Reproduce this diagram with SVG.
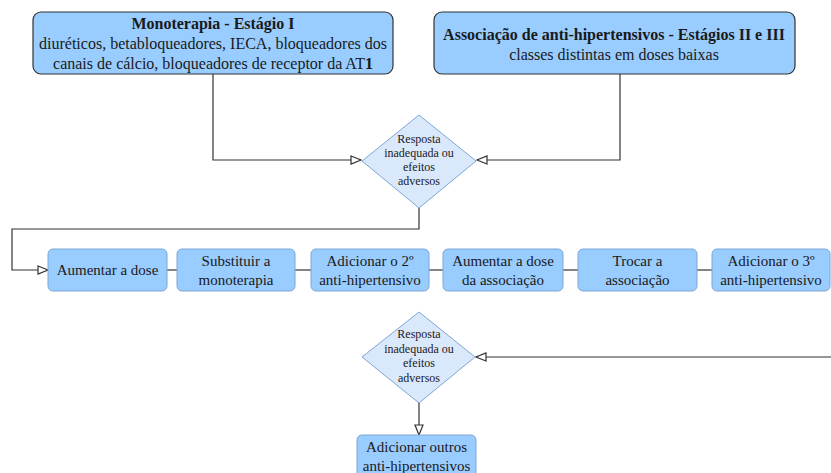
<svg xmlns="http://www.w3.org/2000/svg" width="831" height="473" viewBox="0 0 831 473">
  <style>
    text { font-family: "Liberation Serif", "Times New Roman", serif; fill: #1a1a1a; text-anchor: middle; }
    .head { fill: #99ccff; stroke: #333333; stroke-width: 1.2; }
    .step { fill: #99ccff; stroke: #7ea6d6; stroke-width: 1; }
    .decision { fill: #dae8fc; stroke: #7ea6d6; stroke-width: 1; }
    .big { font-size: 16px; }
    .mid { font-size: 15px; }
    .small { font-size: 12px; }
    .bold { font-weight: bold; }
    .wire { fill: none; stroke: #333333; stroke-width: 1.2; }
  </style>
  <defs>
    <marker id="open-arrow" viewBox="0 0 12 10" refX="11" refY="5" markerWidth="12" markerHeight="10" markerUnits="userSpaceOnUse" orient="auto">
      <path d="M1,1 L11,5 L1,9 Z" fill="#ffffff" stroke="#333333" stroke-width="1.2"/>
    </marker>
  </defs>

  <rect width="831" height="473" fill="#ffffff"/>

  <!-- connectors -->
  <g id="connectors">
    <path class="wire" d="M213,74 V160 H361" marker-end="url(#open-arrow)"/>
    <path class="wire" d="M620,74 V160 H477" marker-end="url(#open-arrow)"/>
    <path class="wire" d="M419,208 V229 H12 V270 H48" marker-end="url(#open-arrow)"/>
    <path class="wire" d="M167,270 H177"/>
    <path class="wire" d="M295,270 H311"/>
    <path class="wire" d="M429,270 H443"/>
    <path class="wire" d="M563,270 H578"/>
    <path class="wire" d="M697,270 H712"/>
    <path class="wire" d="M831,357 H476" marker-end="url(#open-arrow)"/>
    <path class="wire" d="M419,403 V435" marker-end="url(#open-arrow)"/>
  </g>

  <!-- stage I -->
  <g id="monoterapia">
    <rect class="head" x="33" y="12" width="360" height="62" rx="8"/>
    <text class="big bold" x="213" y="29">Monoterapia - Estágio I</text>
    <text class="big" x="213" y="49">diuréticos, betabloqueadores, IECA, bloqueadores dos</text>
    <text class="big" x="213" y="69">canais de cálcio, bloqueadores de receptor da AT<tspan font-weight="bold">1</tspan></text>
  </g>

  <!-- stages II and III -->
  <g id="associacao">
    <rect class="head" x="434" y="12" width="361" height="62" rx="8"/>
    <text class="big bold" x="614" y="40">Associação de anti-hipertensivos - Estágios II e III</text>
    <text class="big" x="614" y="60">classes distintas em doses baixas</text>
  </g>

  <!-- first decision -->
  <g id="decisao-1">
    <polygon class="decision" points="419,115 476,161 419,208 362,161"/>
    <text class="small" x="419" y="143">Resposta</text>
    <text class="small" x="419" y="157">inadequada ou</text>
    <text class="small" x="419" y="171">efeitos</text>
    <text class="small" x="419" y="185">adversos</text>
  </g>

  <!-- step row -->
  <g id="aumentar-dose">
    <rect class="step" x="48" y="249" width="119" height="42" rx="5"/>
    <text class="mid" x="107.5" y="275">Aumentar a dose</text>
  </g>
  <g id="substituir">
    <rect class="step" x="177" y="249" width="118" height="42" rx="5"/>
    <text class="mid" x="236" y="266">Substituir a</text>
    <text class="mid" x="236" y="285">monoterapia</text>
  </g>
  <g id="adicionar-2">
    <rect class="step" x="311" y="249" width="118" height="42" rx="5"/>
    <text class="mid" x="370" y="266">Adicionar o 2º</text>
    <text class="mid" x="370" y="285">anti-hipertensivo</text>
  </g>
  <g id="aumentar-associacao">
    <rect class="step" x="443" y="249" width="120" height="42" rx="5"/>
    <text class="mid" x="503" y="266">Aumentar a dose</text>
    <text class="mid" x="503" y="285">da associação</text>
  </g>
  <g id="trocar">
    <rect class="step" x="578" y="249" width="119" height="42" rx="5"/>
    <text class="mid" x="637.5" y="266">Trocar a</text>
    <text class="mid" x="637.5" y="285">associação</text>
  </g>
  <g id="adicionar-3">
    <rect class="step" x="712" y="249" width="118" height="42" rx="5"/>
    <text class="mid" x="771" y="266">Adicionar o 3º</text>
    <text class="mid" x="771" y="285">anti-hipertensivo</text>
  </g>

  <!-- second decision -->
  <g id="decisao-2">
    <polygon class="decision" points="419,312 475,357 419,403 362,357"/>
    <text class="small" x="419" y="338">Resposta</text>
    <text class="small" x="419" y="353">inadequada ou</text>
    <text class="small" x="419" y="367">efeitos</text>
    <text class="small" x="419" y="382">adversos</text>
  </g>

  <g id="adicionar-outros">
    <rect class="step" x="357" y="435" width="119" height="48" rx="5"/>
    <text class="mid" x="416.5" y="452">Adicionar outros</text>
    <text class="mid" x="416.5" y="471">anti-hipertensivos</text>
  </g>
</svg>
